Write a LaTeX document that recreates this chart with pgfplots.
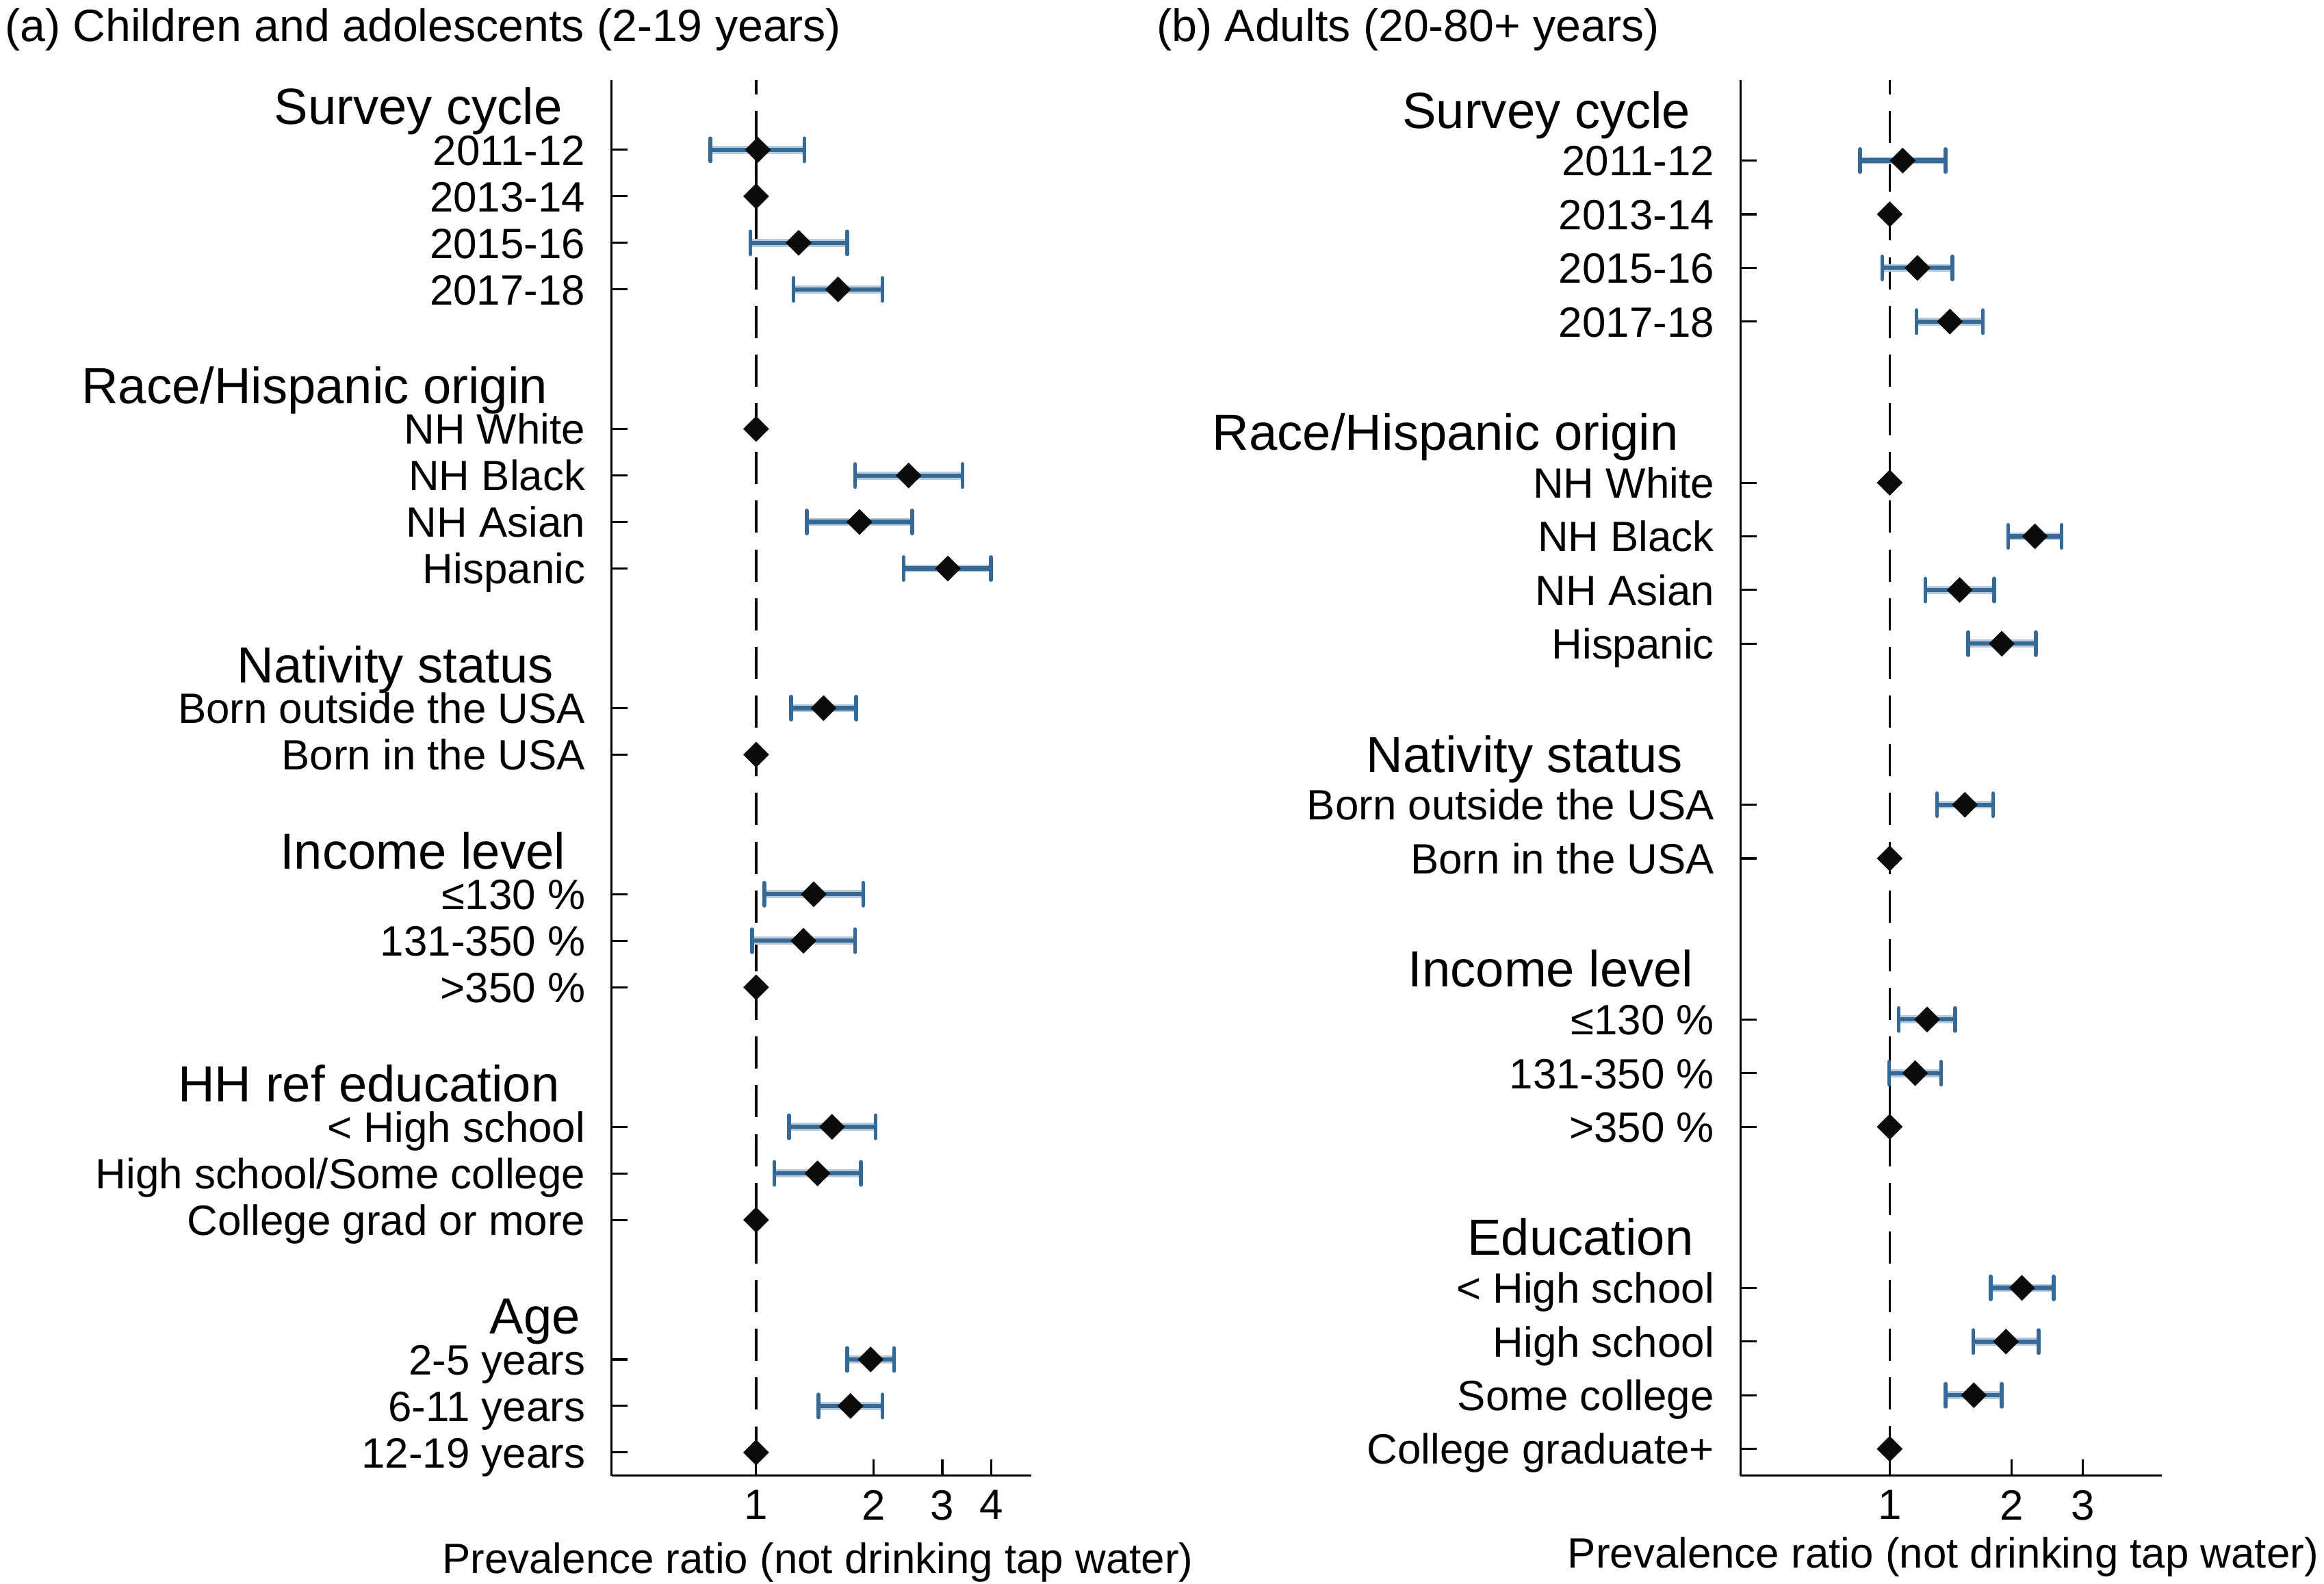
\documentclass[border=0pt]{standalone}
\usepackage{fontspec}
\setmainfont{Liberation Sans}
\usepackage{pgfplots}
\pgfplotsset{compat=1.18}
\usepackage{pgfplotstable}
\definecolor{cibl}{RGB}{54,106,150}
\definecolor{dia}{RGB}{10,12,12}

% ---------- Panel (a) ----------
\pgfplotstableread{
row est
-1 1.01
-3 1.285
-4 1.622
-8 2.459
-9 1.84
-10 3.10
-13 1.489
-17 1.405
-18 1.322
-22 1.565
-23 1.437
-27 1.965
-28 1.745
}\esta
\pgfplotstableread{
row est
-2 1
-7 1
-14 1
-19 1
-24 1
-29 1
}\refa
\pgfplotstableread{
x y
0.764 -1
1.329 -1
nan nan
0.967 -3
1.711 -3
nan nan
1.247 -4
2.106 -4
nan nan
1.792 -8
3.38 -8
nan nan
1.348 -9
2.51 -9
nan nan
2.39 -10
4.0 -10
nan nan
1.23 -13
1.805 -13
nan nan
1.049 -17
1.882 -17
nan nan
0.977 -18
1.793 -18
nan nan
1.213 -22
2.024 -22
nan nan
1.113 -23
1.857 -23
nan nan
1.71 -27
2.257 -27
nan nan
1.445 -28
2.107 -28
}\cia

% ---------- Panel (b) ----------
\pgfplotstableread{
row est
-1 1.077
-3 1.171
-4 1.408
-8 2.284
-9 1.489
-10 1.892
-13 1.534
-17 1.237
-18 1.156
-22 2.121
-23 1.937
-24 1.614
}\estb
\pgfplotstableread{
row est
-2 1
-7 1
-14 1
-19 1
-25 1
}\refb
\pgfplotstableread{
x y
0.845 -1
1.374 -1
nan nan
0.958 -3
1.428 -3
nan nan
1.164 -4
1.699 -4
nan nan
1.963 -8
2.658 -8
nan nan
1.224 -9
1.811 -9
nan nan
1.562 -10
2.296 -10
nan nan
1.308 -13
1.802 -13
nan nan
1.053 -17
1.451 -17
nan nan
0.997 -18
1.339 -18
nan nan
1.776 -22
2.541 -22
nan nan
1.609 -23
2.334 -23
nan nan
1.375 -24
1.892 -24
}\cib

\pgfplotsset{
  fplot/.style={
    scale only axis,
    axis lines*=left,
    axis line style={line width=0.5pt, -},
    tick align=inside,
    major tick length=3.8pt,
    tick style={line width=0.5pt, black},
    xminorticks=false, yminorticks=false,
    clip=false,
    tick label style={font=\fontsize{10}{12}\selectfont},
    yticklabel style={anchor=base east, inner sep=0pt, xshift=-6pt, yshift=-3.6pt},
    xticklabel style={anchor=north, inner sep=0pt, yshift=-3.2pt},
    label style={font=\fontsize{10}{12}\selectfont},
  },
  cishadow/.style={cibl!35, line width=1.9pt, unbounded coords=jump, forget plot},
  ciline/.style={cibl, line width=1.0pt, unbounded coords=jump, mark=|, mark size=2.7pt,
    mark options={line width=0.9pt, line cap=round, solid}},
  diam/.style={only marks, mark=square*, mark size=2.1pt,
    mark options={rotate=45, fill=dia, draw=dia, line width=0.1pt}},
  refline/.style={black, line width=0.6pt, dash pattern=on 7.6pt off 3.9pt, dash phase=4.2pt},
}
\tikzset{hdr/.style={anchor=base east, inner sep=0pt, font=\fontsize{12}{14}\selectfont}}

\begin{document}
\begin{tikzpicture}
\useasboundingbox (0,0) rectangle (548.8pt,373.8pt);

\node[anchor=base west, inner sep=0pt, font=\fontsize{10.7}{13}\selectfont] at (1pt,364pt) {(a) Children and adolescents (2-19 years)};
\node[anchor=base west, inner sep=0pt, font=\fontsize{10.7}{13}\selectfont] at (273pt,364pt) {(b) Adults (20-80+ years)};

% ---------------- (a) ----------------
\begin{axis}[xmode=log, fplot,
  at={(144.4pt,25.4pt)}, anchor=south west,
  width=99.2pt, height=329.5pt,
  xmin=0.426, xmax=5.08,
  ymin=-29.5, ymax=0.5,
  xtick={1,2,3,4}, xticklabels={1,2,3,4},
  ytick={-29,-28,-27,-24,-23,-22,-19,-18,-17,-14,-13,-10,-9,-8,-7,-4,-3,-2,-1},
  yticklabels={12-19 years,6-11 years,2-5 years,College grad or more,High school/Some college,< High school,>350 \%,131-350 \%,≤130 \%,Born in the USA,Born outside the USA,Hispanic,NH Asian,NH Black,NH White,2017-18,2015-16,2013-14,2011-12},
  xlabel={Prevalence ratio (not drinking tap water)},
  xlabel style={at={(axis description cs:0.5,0)}, anchor=center, yshift=-20.5pt, xshift=-0.9pt},
]
\addplot[refline] coordinates {(1,0.5) (1,-29.5)};
\addplot[cishadow] table[x=x,y=y] {\cia};
\addplot[ciline] table[x=x,y=y] {\cia};
\addplot[diam] table[x=est,y=row] {\esta};
\addplot[diam] table[x=est,y=row] {\refa};
\node[hdr, xshift=-11.4pt, yshift=-5pt] at ({rel axis cs:0,0} |- {axis cs:1,0}) {Survey cycle};
\node[hdr, xshift=-14.9pt, yshift=-5pt] at ({rel axis cs:0,0} |- {axis cs:1,-6}) {Race/Hispanic origin};
\node[hdr, xshift=-13.5pt, yshift=-5pt] at ({rel axis cs:0,0} |- {axis cs:1,-12}) {Nativity status};
\node[hdr, xshift=-10.7pt, yshift=-5pt] at ({rel axis cs:0,0} |- {axis cs:1,-16}) {Income level};
\node[hdr, xshift=-12.1pt, yshift=-5pt] at ({rel axis cs:0,0} |- {axis cs:1,-21}) {HH ref education};
\node[hdr, xshift=-7.2pt, yshift=-5pt] at ({rel axis cs:0,0} |- {axis cs:1,-26}) {Age};
\end{axis}

% ---------------- (b) ----------------
\begin{axis}[xmode=log, fplot,
  at={(411.0pt,25.4pt)}, anchor=south west,
  width=99.5pt, height=329.5pt,
  xmin=0.428, xmax=4.70,
  ymin=-25.5, ymax=0.5,
  xtick={1,2,3}, xticklabels={1,2,3},
  ytick={-25,-24,-23,-22,-19,-18,-17,-14,-13,-10,-9,-8,-7,-4,-3,-2,-1},
  yticklabels={College graduate+,Some college,High school,< High school,>350 \%,131-350 \%,≤130 \%,Born in the USA,Born outside the USA,Hispanic,NH Asian,NH Black,NH White,2017-18,2015-16,2013-14,2011-12},
  xlabel={Prevalence ratio (not drinking tap water)},
  xlabel style={at={(axis description cs:0.5,0)}, anchor=center, yshift=-19.1pt, xshift=-1.9pt},
]
\addplot[refline] coordinates {(1,0.5) (1,-25.5)};
\addplot[cishadow] table[x=x,y=y] {\cib};
\addplot[ciline] table[x=x,y=y] {\cib};
\addplot[diam] table[x=est,y=row] {\estb};
\addplot[diam] table[x=est,y=row] {\refb};
\node[hdr, xshift=-11.6pt, yshift=-5pt] at ({rel axis cs:0,0} |- {axis cs:1,0}) {Survey cycle};
\node[hdr, xshift=-14.4pt, yshift=-5pt] at ({rel axis cs:0,0} |- {axis cs:1,-6}) {Race/Hispanic origin};
\node[hdr, xshift=-13.4pt, yshift=-5pt] at ({rel axis cs:0,0} |- {axis cs:1,-12}) {Nativity status};
\node[hdr, xshift=-10.9pt, yshift=-5pt] at ({rel axis cs:0,0} |- {axis cs:1,-16}) {Income level};
\node[hdr, xshift=-10.9pt, yshift=-5pt] at ({rel axis cs:0,0} |- {axis cs:1,-21}) {Education};
\end{axis}
\end{tikzpicture}
\end{document}
